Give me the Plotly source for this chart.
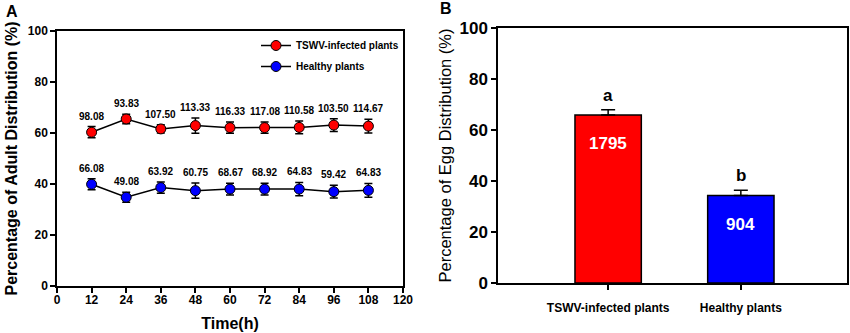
import plotly.graph_objects as go

# ---- Data ----
time_h = [12, 24, 36, 48, 60, 72, 84, 96, 108]
infected_pct = [60.3, 65.5, 61.6, 62.9, 62.1, 62.1, 62.2, 63.1, 62.7]
infected_err = [2.2, 1.9, 1.6, 3.0, 2.2, 2.2, 2.5, 2.5, 2.7]
infected_lbl = ["98.08", "93.83", "107.50", "113.33", "116.33", "117.08", "110.58", "103.50", "114.67"]
healthy_pct = [39.9, 34.8, 38.6, 37.4, 38.0, 38.0, 38.0, 37.0, 37.5]
healthy_err = [2.2, 2.0, 2.2, 3.0, 2.3, 2.3, 2.6, 2.5, 2.7]
healthy_lbl = ["66.08", "49.08", "63.92", "60.75", "68.67", "68.92", "64.83", "59.42", "64.83"]

egg_cats = ["TSWV-infected plants", "Healthy plants"]
egg_pct = [65.9, 34.3]
egg_err = [2.0, 2.1]
egg_count = ["1795", "904"]
egg_letter = ["a", "b"]

FONT = "Arial, Liberation Sans, sans-serif"
RED = "#ff0000"
BLUE = "#0000ff"

fig = go.Figure()

for name, ys, errs, col, grp in [("TSWV-infected plants", infected_pct, infected_err, RED, "g1"),
                                 ("Healthy plants", healthy_pct, healthy_err, BLUE, "g2")]:
    fig.add_trace(go.Scatter(
        x=time_h, y=ys, name=name, mode="lines+markers", legendgroup=grp,
        line=dict(color="black", width=1.5),
        marker=dict(color=col, size=10, line=dict(color="black", width=1)),
        error_y=dict(type="data", array=errs, visible=True, color="black", thickness=1.5, width=4),
        xaxis="x", yaxis="y", showlegend=True))

fig.add_trace(go.Bar(
    x=egg_cats, y=egg_pct, width=0.5,
    marker=dict(color=[RED, BLUE], line=dict(color="black", width=1.5)),
    error_y=dict(type="data", array=egg_err, arrayminus=[0, 0], visible=True,
                 color="black", thickness=1.5, width=7),
    xaxis="x2", yaxis="y2", showlegend=False))

annots = []
for x, y, e, t in zip(time_h, infected_pct, infected_err, infected_lbl):
    annots.append(dict(x=x, y=y + e, xref="x", yref="y", text=t, showarrow=False,
                       yanchor="bottom", yshift=3, font=dict(size=10, family=FONT, color="black", weight="bold")))
for x, y, e, t in zip(time_h, healthy_pct, healthy_err, healthy_lbl):
    annots.append(dict(x=x, y=y + e, xref="x", yref="y", text=t, showarrow=False,
                       yanchor="bottom", yshift=3, font=dict(size=10, family=FONT, color="black", weight="bold")))
for c, y, e, t, n in zip(egg_cats, egg_pct, egg_err, egg_letter, egg_count):
    annots.append(dict(x=c, y=y + e, xref="x2", yref="y2", text=t, showarrow=False,
                       yanchor="bottom", yshift=3, font=dict(size=17, family=FONT, color="black", weight="bold")))
    annots.append(dict(x=c, y=y, xref="x2", yref="y2", text=n, showarrow=False,
                       yanchor="middle", yshift=-29, font=dict(size=17, family=FONT, color="white", weight="bold")))
annots.append(dict(x=12/850, y=1-12/333, xref="paper", yref="paper", text="A", showarrow=False,
                   xanchor="center", yanchor="middle", font=dict(size=16, family=FONT, color="black", weight="bold")))
annots.append(dict(x=446/850, y=1-9/333, xref="paper", yref="paper", text="B", showarrow=False,
                   xanchor="center", yanchor="middle", font=dict(size=16, family=FONT, color="black", weight="bold")))

axis_common = dict(showline=True, linecolor="black", linewidth=1.5, mirror=True, ticks="outside",
                   tickcolor="black", tickwidth=1.5, ticklen=5, showgrid=False, zeroline=False,
                   automargin=False)

fig.update_layout(
    width=850, height=333, margin=dict(l=0, r=0, t=0, b=0, autoexpand=False),
    paper_bgcolor="white", plot_bgcolor="white",
    font=dict(family=FONT, color="black"),
    xaxis=dict(domain=[57/850, 403/850], range=[0, 120], tickvals=list(range(0, 121, 12)),
               tickfont=dict(size=12, weight="bold"), ticklabelstandoff=-3,
               title=dict(text="Time(h)", font=dict(size=16, weight="bold"), standoff=12), **axis_common),
    yaxis=dict(domain=[1-286/333, 1-31/333], range=[0, 100], tickvals=list(range(0, 101, 20)),
               tickfont=dict(size=12, weight="bold"),
               title=dict(text="Percentage of Adult Distribution (%)", font=dict(size=16, weight="bold"), standoff=6),
               **axis_common),
    xaxis2=dict(domain=[498/850, 847/850], range=[-0.83, 1.8], anchor="y2",
                tickfont=dict(size=12, weight="bold"), ticklabelstandoff=8, **axis_common),
    yaxis2=dict(domain=[1-283/333, 1-28/333], range=[0, 100], tickvals=list(range(0, 101, 20)), anchor="x2",
                tickfont=dict(size=17, weight="bold"),
                title=dict(text="Percentage of Egg Distribution (%)", font=dict(size=16.5), standoff=4),
                **axis_common),
    legend=dict(x=256/850, y=1-31/333, xanchor="left", yanchor="top", bgcolor="rgba(0,0,0,0)",
                font=dict(size=10, weight="bold"), itemwidth=30, tracegroupgap=2),
    annotations=annots,
)

fig.write_html("out.html", config={"displayModeBar": False},
               post_script="document.body.style.margin='0';document.body.style.overflow='hidden';")
